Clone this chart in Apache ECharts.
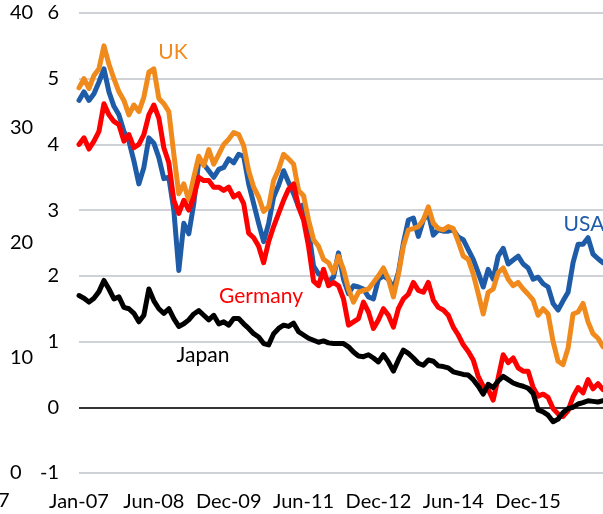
<!DOCTYPE html>
<html>
<head>
<meta charset="utf-8">
<script src="https://cdn.jsdelivr.net/npm/echarts@6/dist/echarts.min.js"></script>
<style>
html,body{margin:0;padding:0;background:#fff;}
#chart{width:603px;height:514px;}
</style>
</head>
<body>
<div id="chart"></div>
<script>
const tickLabels = ['Jan-07','Jun-08','Dec-09','Jun-11','Dec-12','Jun-14','Dec-15'];
const outerTicks = [0,10,20,30,40];

const usa = [4.67,4.8,4.67,4.77,4.95,5.15,4.8,4.58,4.45,4.2,4.05,3.75,3.4,3.65,4.1,4.02,3.8,3.48,3.5,3.0,
2.08,2.8,2.64,3.1,3.75,3.7,3.6,3.5,3.62,3.65,3.78,3.72,3.85,3.82,3.4,3.1,2.8,2.52,2.8,3.2,
3.38,3.6,3.42,3.25,3.05,3.08,2.7,2.15,2.03,2.0,1.92,1.98,2.35,1.95,1.73,1.85,1.83,1.8,1.68,1.65,
1.95,2.0,1.95,1.8,2.05,2.5,2.85,2.88,2.6,2.85,2.95,2.62,2.7,2.68,2.68,2.7,2.59,2.55,2.4,2.25,
2.05,1.83,2.1,1.95,2.3,2.42,2.18,2.24,2.3,2.18,2.12,1.95,1.98,1.88,1.83,1.58,1.48,1.62,1.75,2.2,
2.48,2.48,2.58,2.33,2.26,2.2];
const uk = [4.86,5.0,4.85,5.05,5.15,5.5,5.22,5.0,4.8,4.67,4.45,4.6,4.5,4.72,5.1,5.15,4.7,4.62,4.5,3.85,
3.25,3.4,3.15,3.5,3.82,3.68,3.92,3.7,3.85,4.0,4.08,4.18,4.15,3.98,3.6,3.35,3.2,2.98,3.05,3.45,
3.62,3.85,3.78,3.7,3.3,3.22,2.85,2.55,2.45,2.25,2.2,2.05,2.3,2.1,1.8,1.6,1.75,1.78,1.8,1.9,
2.0,2.12,1.95,1.68,2.02,2.45,2.7,2.72,2.75,2.85,3.05,2.8,2.72,2.7,2.75,2.72,2.52,2.3,2.25,2.03,
1.73,1.42,1.75,1.8,2.05,2.12,1.95,1.85,1.9,1.8,1.72,1.63,1.4,1.5,1.42,1.0,0.7,0.65,0.9,1.42,
1.45,1.58,1.3,1.12,1.05,0.92];
const germany = [4.0,4.1,3.93,4.05,4.2,4.62,4.45,4.35,4.3,4.05,4.15,3.95,4.0,4.15,4.45,4.6,4.4,3.95,3.72,3.15,
2.95,3.15,3.0,3.2,3.5,3.45,3.45,3.35,3.35,3.3,3.35,3.2,3.25,3.1,2.65,2.58,2.45,2.2,2.52,2.75,
2.95,3.15,3.32,3.4,3.05,2.85,2.45,1.92,1.85,2.1,1.85,1.9,1.85,1.65,1.25,1.3,1.35,1.6,1.45,1.2,
1.33,1.5,1.4,1.22,1.5,1.65,1.72,1.9,1.78,1.75,1.9,1.63,1.52,1.48,1.4,1.22,1.1,0.95,0.85,0.72,
0.47,0.32,0.27,0.11,0.45,0.8,0.68,0.75,0.6,0.55,0.55,0.3,0.17,0.2,0.15,-0.02,-0.1,-0.14,-0.05,0.16,
0.3,0.22,0.42,0.28,0.36,0.27];
const japan = [1.7,1.66,1.6,1.66,1.76,1.93,1.8,1.65,1.68,1.52,1.5,1.43,1.3,1.4,1.8,1.62,1.5,1.43,1.5,1.35,
1.23,1.27,1.33,1.42,1.47,1.4,1.33,1.4,1.27,1.3,1.25,1.35,1.35,1.27,1.2,1.12,1.07,0.97,0.95,1.12,
1.2,1.25,1.23,1.28,1.15,1.1,1.05,1.02,0.99,1.01,0.98,0.97,0.97,0.97,0.92,0.84,0.78,0.77,0.8,0.75,
0.69,0.8,0.69,0.55,0.72,0.87,0.82,0.75,0.67,0.64,0.72,0.7,0.63,0.62,0.6,0.54,0.52,0.5,0.49,0.42,
0.32,0.2,0.35,0.3,0.4,0.47,0.42,0.37,0.34,0.32,0.29,0.21,-0.04,-0.07,-0.12,-0.22,-0.18,-0.08,-0.02,0.0,
0.05,0.07,0.1,0.09,0.08,0.1];

const FONT = 'Lato, "Open Sans", sans-serif';
const toPoints = arr => arr.map((v, i) => [i, v]);

const chart = echarts.init(document.getElementById('chart'), null, {renderer: 'canvas'});

function lineSeries(name, data, color, extra) {
  return Object.assign({
    name: name,
    type: 'line',
    data: toPoints(data),
    yAxisIndex: 0,
    showSymbol: false,
    symbol: 'none',
    smooth: false,
    lineStyle: {color: color, width: 5, join: 'round', cap: 'round'},
    itemStyle: {color: color},
    silent: true,
    animation: false
  }, extra || {});
}

const option = {
  animation: false,
  backgroundColor: '#ffffff',
  grid: {left: 79, right: 0, top: 13, bottom: 41, containLabel: false},
  xAxis: {
    type: 'value',
    min: 0,
    max: usa.length - 1,
    interval: 15,
    axisLine: {show: false},
    axisTick: {show: false},
    splitLine: {show: false},
    axisLabel: {
      show: true,
      margin: 19,
      color: '#000',
      fontFamily: FONT,
      fontSize: 20,
      showMaxLabel: false,
      formatter: v => tickLabels[Math.round(v / 15)] || ''
    }
  },
  yAxis: [
    {
      type: 'value',
      min: -1,
      max: 6,
      interval: 1,
      position: 'left',
      axisLine: {show: false},
      axisTick: {show: false},
      splitLine: {show: true, lineStyle: {color: '#bfc5cb', width: 1.5}},
      axisLabel: {margin: 20, color: '#000', fontFamily: FONT, fontSize: 20}
    },
    {
      type: 'value',
      min: outerTicks[0],
      max: outerTicks[outerTicks.length - 1],
      interval: 10,
      position: 'left',
      offset: 69,
      axisLine: {show: false},
      axisTick: {show: false},
      splitLine: {show: false},
      axisLabel: {margin: 0, align: 'left', color: '#000', fontFamily: FONT, fontSize: 20}
    }
  ],
  series: [
    lineSeries('USA', usa, '#1f5ca8'),
    lineSeries('UK', uk, '#f08a1c'),
    lineSeries('Germany', germany, '#ff0000'),
    lineSeries('Japan', japan, '#000000', {
      markLine: {
        silent: true,
        symbol: 'none',
        label: {show: false},
        lineStyle: {color: '#000', width: 1.5, type: 'solid'},
        data: [{yAxis: 0}],
        z: 1
      }
    })
  ],
  graphic: [
    {type: 'text', x: 173, y: 52, style: {text: 'UK', fill: '#f08a1c', font: '21px ' + FONT, align: 'center', verticalAlign: 'middle'}},
    {type: 'text', x: 584, y: 224, style: {text: 'USA', fill: '#1f5ca8', font: '21px ' + FONT, align: 'center', verticalAlign: 'middle'}},
    {type: 'text', x: 261, y: 296, style: {text: 'Germany', fill: '#ff0000', font: '21px ' + FONT, align: 'center', verticalAlign: 'middle'}},
    {type: 'text', x: 203, y: 355, style: {text: 'Japan', fill: '#000', font: '21px ' + FONT, align: 'center', verticalAlign: 'middle'}},
    {type: 'text', x: -2, y: 501, style: {text: '7', fill: '#000', font: '20px ' + FONT, align: 'left', verticalAlign: 'middle'}}
  ]
};
chart.setOption(option);
</script>
</body>
</html>
